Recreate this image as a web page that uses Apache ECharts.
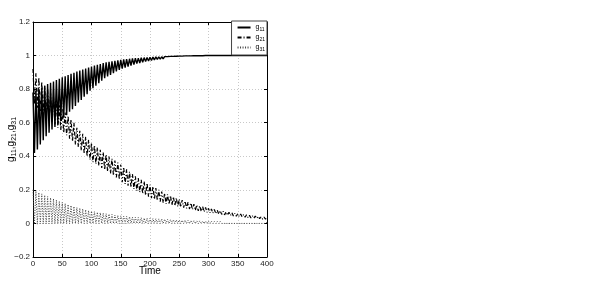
<!DOCTYPE html>
<html>
<head>
<meta charset="utf-8">
<script src="https://cdn.jsdelivr.net/npm/echarts@6/dist/echarts.min.js"></script>
<style>html,body{margin:0;padding:0;background:#fff}#c{width:601px;height:289px}</style>
</head>
<body>
<div id="c"></div>
<script>
// Time step between an oscillation peak (upper) and the following trough (lower)
const halfStep = 2.5;
const xTicks = [0, 50, 100, 150, 200, 250, 300, 350, 400];
const yTicks = [-0.2, 0, 0.2, 0.4, 0.6, 0.8, 1, 1.2];
const seriesNames = ['g11', 'g21', 'g31'];

// g11: peaks at t = 0,5,...,400 ; troughs at t = 2.5,7.5,...,397.5
const g11Upper = [
  0.78,0.79,0.80,0.81,0.82,0.83,0.838,0.846,0.854,0.862,
  0.87,0.877,0.884,0.891,0.898,0.905,0.911,0.917,0.923,0.929,
  0.935,0.94,0.945,0.95,0.955,0.96,0.963,0.966,0.969,0.972,
  0.975,0.977,0.979,0.981,0.983,0.984,0.985,0.987,0.988,0.989,
  0.99,0.991,0.992,0.992,0.993,0.994,0.994,0.995,0.995,0.996,
  0.997,0.997,0.998,0.998,0.998,0.999,0.999,0.999,0.999,1.0,
  1.0,1.0,1.0,1.0,1.0,1.0,1.0,1.0,1.0,1.0,
  1.0,1.0,1.0,1.0,1.0,1.0,1.0,1.0,1.0,1.0,
  1.0];
const g11Lower = [
  0.42,0.44,0.47,0.495,0.52,0.54,0.56,0.575,0.595,0.61,
  0.63,0.645,0.665,0.68,0.70,0.72,0.735,0.755,0.77,0.79,
  0.805,0.82,0.835,0.85,0.865,0.875,0.885,0.895,0.905,0.915,
  0.922,0.928,0.934,0.94,0.946,0.952,0.956,0.96,0.964,0.968,
  0.971,0.974,0.977,0.979,0.981,0.983,0.985,0.987,0.988,0.989,
  0.99,0.991,0.992,0.993,0.994,0.995,0.996,0.996,0.997,0.997,
  0.998,0.998,0.998,0.999,0.999,0.999,0.999,1.0,1.0,1.0,
  1.0,1.0,1.0,1.0,1.0,1.0,1.0,1.0,1.0,1.0];

// g21
const g21Upper = [
  0.92,0.895,0.87,0.845,0.82,0.80,0.776,0.752,0.728,0.704,
  0.68,0.66,0.64,0.62,0.60,0.57,0.552,0.534,0.516,0.498,
  0.48,0.466,0.452,0.438,0.424,0.41,0.398,0.386,0.374,0.362,
  0.35,0.336,0.322,0.308,0.294,0.28,0.27,0.26,0.25,0.24,
  0.23,0.22,0.21,0.20,0.19,0.18,0.173,0.166,0.159,0.152,
  0.145,0.139,0.133,0.127,0.121,0.115,0.11,0.105,0.10,0.095,
  0.09,0.086,0.083,0.079,0.076,0.072,0.069,0.066,0.064,0.061,
  0.058,0.056,0.053,0.051,0.048,0.046,0.044,0.042,0.04,0.038,
  0.036];
const g21Lower = [
  0.71,0.69,0.67,0.65,0.635,0.62,0.605,0.59,0.57,0.555,
  0.54,0.525,0.505,0.49,0.47,0.455,0.435,0.415,0.40,0.38,
  0.365,0.355,0.345,0.33,0.32,0.31,0.298,0.286,0.274,0.262,
  0.245,0.235,0.225,0.215,0.205,0.195,0.186,0.177,0.168,0.159,
  0.151,0.144,0.137,0.13,0.123,0.117,0.113,0.109,0.105,0.101,
  0.098,0.094,0.09,0.086,0.082,0.078,0.075,0.072,0.069,0.066,
  0.063,0.061,0.058,0.056,0.054,0.051,0.049,0.047,0.045,0.043,
  0.041,0.039,0.037,0.035,0.033,0.031,0.03,0.028,0.026,0.025];

// g31
const g31Upper = [
  0.2,0.192,0.184,0.176,0.168,0.16,0.153,0.146,0.139,0.132,
  0.125,0.119,0.113,0.107,0.101,0.095,0.091,0.086,0.082,0.077,
  0.073,0.07,0.067,0.064,0.061,0.058,0.056,0.053,0.05,0.048,
  0.045,0.043,0.042,0.04,0.038,0.037,0.035,0.034,0.032,0.031,
  0.03,0.029,0.028,0.027,0.026,0.025,0.024,0.023,0.022,0.021,
  0.02,0.019,0.019,0.018,0.017,0.017,0.016,0.015,0.014,0.014,
  0.013,0.013,0.012,0.012,0.012,0.011,0.011,0.011,0.01,0.01,
  0.01,0.01,0.01,0.009,0.009,0.009,0.009,0.008,0.008,0.008,
  0.008];
const g31Lower = [
  -0.004,-0.004,-0.003,-0.003,-0.003,-0.002,-0.002,-0.002,-0.002,-0.001,
  -0.001,-0.001,-0.001,-0.001,0,0,0,0,0,0,
  0,0,0,0,0,0,0,0,0,0,
  0,0,0,0,0,0,0,0,0,0,
  0,0,0,0,0,0,0,0,0,0,
  0,0,0,0,0,0,0,0,0,0,
  0,0,0,0,0,0,0,0,0,0,
  0,0,0,0,0,0,0,0,0,0];

function build(upper, lower) {
  const d = [];
  for (let i = 0; i < upper.length; i++) {
    d.push([i * 2 * halfStep, upper[i]]);
    if (i < lower.length) d.push([i * 2 * halfStep + halfStep, lower[i]]);
  }
  return d;
}

const FONT = 'Liberation Sans';
function fmt(v) {
  const s = String(Number(v.toFixed(1)));
  return s.replace('-', '\u2212');
}
const richSub = {
  n: { fontFamily: FONT, fontSize: 10, color: '#000' },
  s: { fontFamily: FONT, fontSize: 7, color: '#000', verticalAlign: 'bottom', padding: [6, 0, 0, 0] }
};
function subName(name) { return '{n|' + name[0] + '}{s|' + name.slice(1) + '}'; }

const chart = echarts.init(document.getElementById('c'));
const axisLineStyle = { show: true, onZero: false, lineStyle: { color: '#000', width: 1 } };
const tickStyle = { show: true, inside: true, length: 3, lineStyle: { color: '#000' } };
chart.setOption({
  animation: false,
  backgroundColor: '#fff',
  grid: { left: 33, right: 334, top: 22, bottom: 32, containLabel: false },
  legend: {
    orient: 'vertical', right: 334, top: 21,
    backgroundColor: '#fff', borderColor: '#444', borderWidth: 1,
    padding: [3, 2, 3, 5], itemGap: 2, itemWidth: 13, itemHeight: 8,
    data: seriesNames,
    formatter: subName,
    itemStyle: { opacity: 0 },
    textStyle: { rich: { n: { fontFamily: FONT, fontSize: 7, color: '#000' }, s: { fontFamily: FONT, fontSize: 5, color: '#000', verticalAlign: 'bottom', padding: [4, 0, 0, 0] } } }
  },
  xAxis: [{
    type: 'value', min: 0, max: 400, interval: 50, position: 'bottom',
    name: 'Time', nameLocation: 'middle', nameGap: 9, nameMoveOverlap: false,
    nameTextStyle: { fontFamily: FONT, fontSize: 10, color: '#000', verticalAlign: 'top' },
    axisLine: axisLineStyle,
    axisTick: tickStyle,
    axisLabel: { fontFamily: FONT, fontSize: 8, color: '#222', margin: 3 },
    splitLine: { show: true, lineStyle: { color: '#c8c8c8', type: [1, 2], width: 1 } }
  }, {
    type: 'value', min: 0, max: 400, interval: 50, position: 'top',
    axisLine: axisLineStyle,
    axisTick: tickStyle,
    axisLabel: { show: false }, splitLine: { show: false }
  }],
  yAxis: [{
    type: 'value', min: -0.2, max: 1.2, interval: 0.2, position: 'left',
    name: '{n|g}{s|11}{n|,g}{s|21}{n|,g}{s|31}', nameLocation: 'middle', nameGap: 15, nameRotate: 90, nameMoveOverlap: false,
    nameTextStyle: { rich: richSub },
    axisLine: axisLineStyle,
    axisTick: tickStyle,
    axisLabel: { fontFamily: FONT, fontSize: 8, color: '#222', margin: 3, formatter: fmt },
    splitLine: { show: true, lineStyle: { color: '#c8c8c8', type: [1, 2], width: 1 } }
  }, {
    type: 'value', min: -0.2, max: 1.2, interval: 0.2, position: 'right',
    axisLine: axisLineStyle,
    axisTick: tickStyle,
    axisLabel: { show: false }, splitLine: { show: false }
  }],
  series: [
    { name: 'g11', type: 'line', symbol: 'none', data: build(g11Upper, g11Lower),
      lineStyle: { color: '#000', width: 1.4, type: 'solid' }, itemStyle: { color: '#000' }, z: 3 },
    { name: 'g21', type: 'line', symbol: 'none', data: build(g21Upper, g21Lower),
      lineStyle: { color: '#000', width: 1.2, type: [4, 2, 1, 2] }, itemStyle: { color: '#000' }, z: 2 },
    { name: 'g31', type: 'line', symbol: 'none', data: build(g31Upper, g31Lower),
      lineStyle: { color: '#444', width: 1, type: [1, 1.5] }, itemStyle: { color: '#444' }, z: 1 }
  ]
});
</script>
</body>
</html>
